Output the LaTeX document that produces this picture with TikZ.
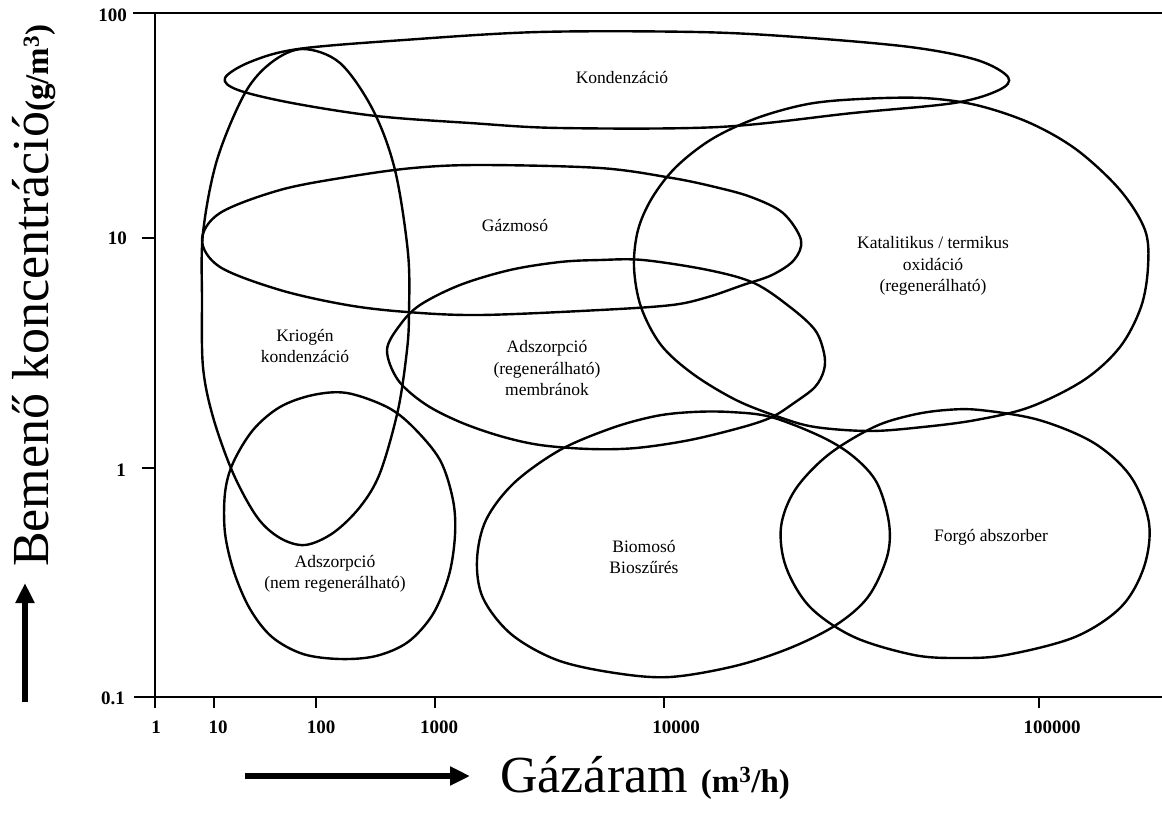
\documentclass[tikz,border=0pt]{standalone}
\usepackage{fontspec}
\setmainfont{Liberation Serif}
\usetikzlibrary{arrows.meta}
\tikzset{
  region/.style={line width=2.4pt, black, line join=round},
  axisline/.style={line width=1.4pt, black},
  lab/.style={font=\fontsize{17.5}{21.5}\selectfont, align=center, inner sep=0pt},
  ticklab/.style={font=\bfseries\fontsize{19}{22}\selectfont, inner sep=0pt},
  bigarrow/.style={line width=6pt, -{Triangle[length=20pt,width=18pt]}}
}
\begin{document}
\begin{tikzpicture}[x=1pt,y=-1pt]
\useasboundingbox (0,0) rectangle (1162,822);
% axes
\coordinate (ytop) at (155,13);
\coordinate (ybot) at (155,708);
\coordinate (tl) at (133,13);
\coordinate (tr) at (1162,13);
\coordinate (xl) at (134,697);
\coordinate (xr) at (1162,697);
\draw[axisline] (ytop) -- (ybot);
\draw[axisline] (tl) -- (tr);
\draw[axisline] (xl) -- (xr);
\foreach \x in {214,316,435,664,1039} \draw[axisline] (\x,697) -- (\x,708);
\foreach \y in {238,468} \draw[axisline] (142,\y) -- (155,\y);
% tick labels
\node[ticklab, anchor=east] (y100) at (127,15) {100};
\node[ticklab, anchor=east] (y10) at (127,238) {10};
\node[ticklab, anchor=east] (y1) at (126,470) {1};
\node[ticklab, anchor=east] (y01) at (125,698) {0.1};
\node[ticklab] (x1) at (156,727) {1};
\node[ticklab] (x10) at (218,727) {10};
\node[ticklab] (x100) at (321,727) {100};
\node[ticklab] (x1000) at (439,727) {1000};
\node[ticklab] (x10000) at (676,727) {10000};
\node[ticklab] (x100000) at (1052,727) {100000};
% axis titles
\node[rotate=90, anchor=base west, inner sep=0pt] (ytitle) at (48,567)
  {\fontsize{52}{60}\selectfont Bemenő koncentráció{\bfseries\fontsize{33}{36}\selectfont(g/m\textsuperscript{3})}};
\node[anchor=base west, inner sep=0pt] (xtitle) at (500,792)
  {\fontsize{52}{60}\selectfont Gázáram {\bfseries\fontsize{33}{36}\selectfont(m\textsuperscript{3}/h)}};
\coordinate (va) at (25,702);
\coordinate (vb) at (25,583);
\draw[bigarrow] (va) -- (vb);
\coordinate (ha) at (245,776);
\coordinate (hb) at (470,776);
\draw[bigarrow] (ha) -- (hb);
% Kondenzáció
\draw[region] plot[smooth cycle, tension=0.55] coordinates {
 (225,78) (250,62) (298,49) (404,40) (539,32) (696,32) (797,37) (910,47) (977,60) (1008,77)
 (999,90) (954,103) (853,113) (719,127) (560,128) (470,123) (376,116) (292,103) (238,90)};
% Kriogén
\draw[region] plot[smooth cycle, tension=0.55] coordinates {
 (303,49) (340,63) (373,110) (395,170) (408,253) (409,313) (407,350) (398,410) (380,473)
 (360,507) (333,533) (305,545) (280,538) (257,517) (233,473) (213,417) (203,367) (202,300)
 (203,233) (217,160) (245,93) (272,62)};
% Gázmosó
\draw[region] plot[smooth cycle, tension=0.55] coordinates {
 (202,240) (220,213) (280,190) (347,177) (413,168) (480,165) (600,168) (672,178) (715,187)
 (751,197) (783,213) (801,240) (794,260) (772,275) (743,285) (708,297) (672,305) (600,310)
 (480,315) (407,312) (347,305) (280,290) (220,267)};
% Adszorpció regenerálható
\draw[region] plot[smooth cycle, tension=0.55] coordinates {
 (387,350) (400,325) (420,305) (460,285) (510,270) (560,262) (600,260) (643,260) (708,270)
 (754,283) (790,307) (815,330) (824,353) (824,370) (815,387) (794,403) (772,417) (743,427)
 (690,440) (636,448) (590,449) (540,445) (500,436) (460,422) (425,404) (398,380)};
% Katalitikus
\draw[region] plot[smooth cycle, tension=0.55] coordinates {
 (860,99) (923,98) (976,105) (1030,123) (1077,150) (1120,190) (1145,230) (1148,267)
 (1141,307) (1120,347) (1084,380) (1030,407) (976,420) (923,427) (870,431)
 (815,427) (779,417) (736,400) (693,374) (661,345) (641,307) (634,267) (638,230) (652,198)
 (676,167) (712,139) (757,118) (808,104)};
% Adszorpció nem regenerálható
\draw[region] plot[smooth cycle, tension=0.55] coordinates {
 (347,393) (387,407) (413,427) (440,460) (453,500) (455,535) (449,575) (433,614) (408,642)
 (376,656) (340,659) (303,654) (272,637) (250,609) (234,572) (225,533) (225,493) (233,463)
 (253,430) (280,407) (313,395)};
% Biomosó
\draw[region] plot[smooth cycle, tension=0.55] coordinates {
 (693,412) (730,412) (771,417) (822,437) (854,457) (877,483) (889,523) (887,557) (868,597)
 (836,625) (790,648) (735,666) (670,677) (615,673) (557,660) (511,634) (483,598) (477,560)
 (486,520) (514,483) (560,450) (612,428) (656,416)};
% Forgó
\draw[region] plot[smooth cycle, tension=0.55] coordinates {
 (946,410) (980,410) (1039,420) (1094,443) (1131,477) (1149,523) (1144,567) (1121,607)
 (1075,637) (1006,655) (960,658) (914,655) (854,637) (810,607) (786,567) (781,527) (795,490)
 (828,455) (874,427) (912,415)};
% labels
\node[lab] (kond) at (622,77) {Kondenzáció};
\node[lab] (gaz) at (515,225) {Gázmosó};
\node[lab] (krio) at (305,346) {Kriogén\\kondenzáció};
\node[lab] (adsreg) at (547,368) {Adszorpció\\(regenerálható)\\membránok};
\node[lab] (kat) at (933,266) {Katalitikus / termikus\\oxidáció\\(regenerálható)};
\node[lab] (adsnem) at (335,574) {Adszorpció\\(nem regenerálható)};
\node[lab] (bio) at (644,557) {Biomosó\\Bioszűrés};
\node[lab] (forgo) at (991,537) {Forgó abszorber};
\end{tikzpicture}
\end{document}
